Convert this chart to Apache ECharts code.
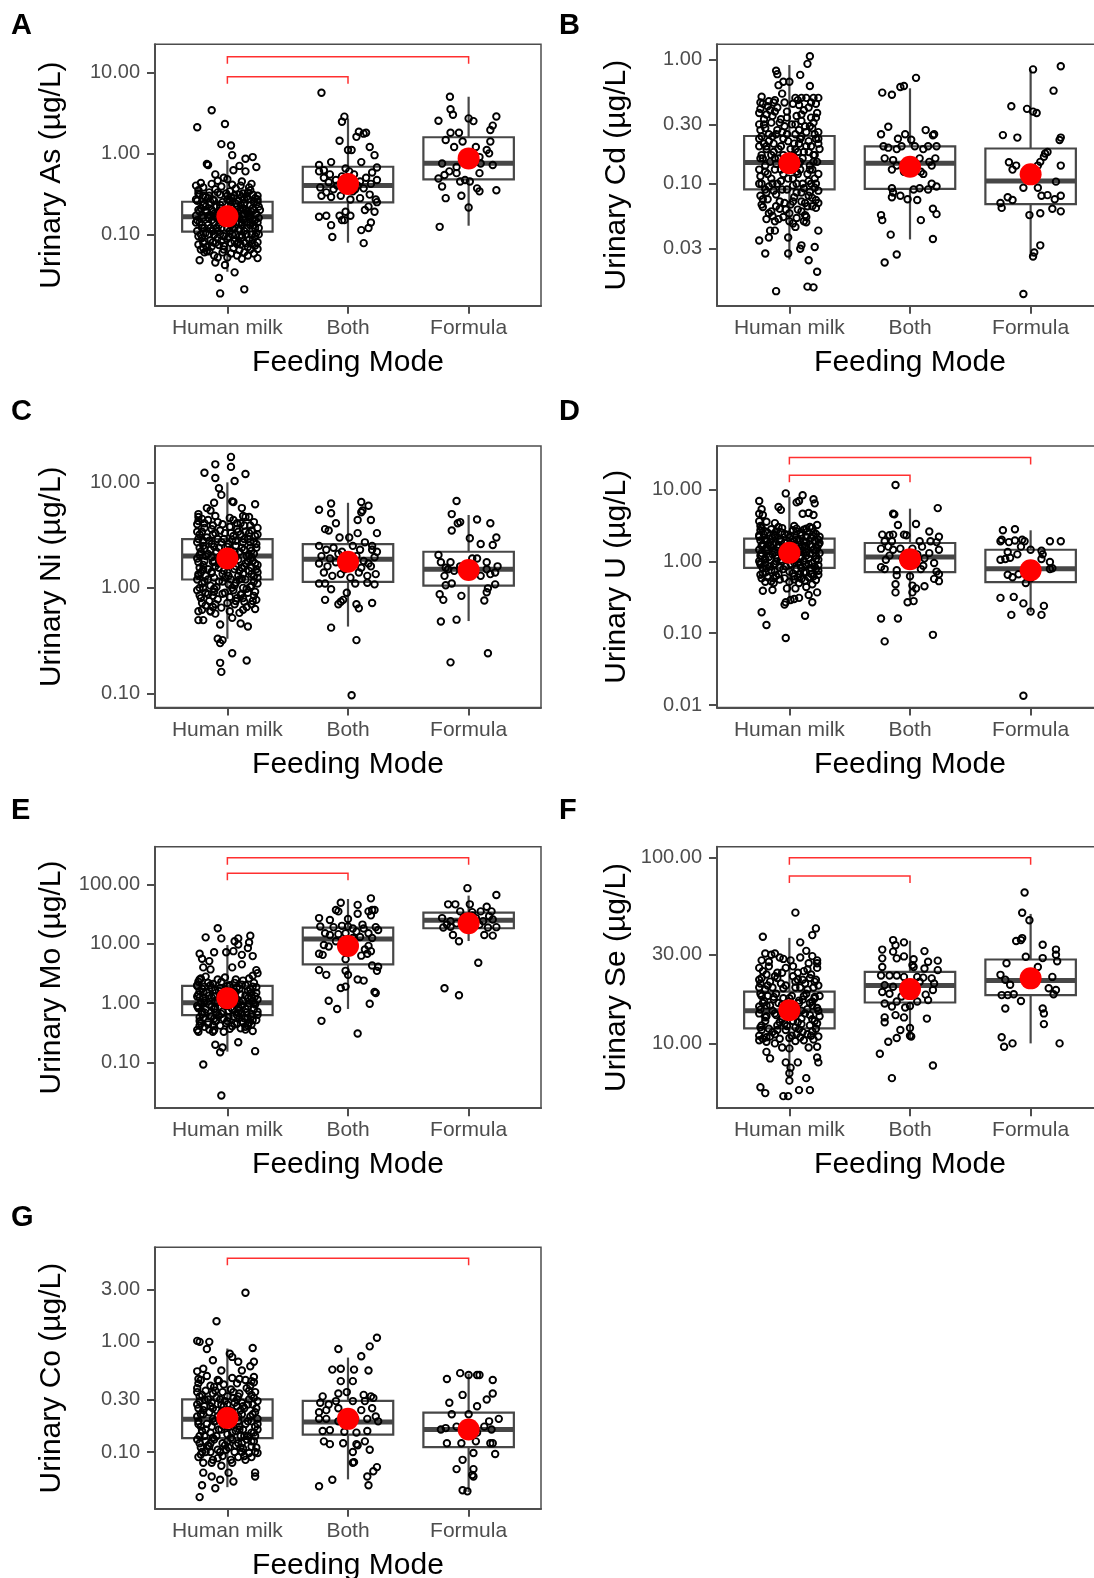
<!DOCTYPE html>
<html>
<head>
<meta charset="utf-8">
<script src="https://cdn.jsdelivr.net/npm/echarts@6.0.0/dist/echarts.min.js"></script>
<style>
  html, body { margin: 0; padding: 0; background: #fff; }
  #chart { width: 1094px; height: 1578px; }
</style>
</head>
<body>
<div id="chart"></div>
<script>
// feeding mode categories, shared by all panels
const feedingModes = ['Human milk', 'Both', 'Formula'];

// each group of points: [jitter offset in category units, value in µg/L]
// boxes: [lower whisker, Q1, median, Q3, upper whisker]

// --- A: arsenic
const asRange = [0.01315, 22.18];
const asTicks = [0.1, 1, 10];
const asBoxes = [[0.0346, 0.108, 0.165, 0.253, 0.83], [0.079, 0.248, 0.40, 0.684, 2.7], [0.128, 0.478, 0.753, 1.58, 5.0]];
const asMeans = [0.167, 0.42, 0.867];
const asBrackets = [[1, 2, 8.8], [1, 3, 15.6]];
const asMilk = [[-.13,3.4],[-.25,2.1],[-.02,2.3],[-.05,1.3],[.03,1.25],[.04,.95],[.21,.9],[.15,.86],[-.17,.74],[-.16,.72],[.15,.6],[.24,.68],[-.1,.55],[-.22,.43],[.05,.62],[.1,.7],[-.03,.5],[.18,.38],[0,.48],[-.08,.46],[.12,.45],
  [-.24,.35],[-.2,.3],[-.15,.33],[-.1,.36],[-.06,.31],[.02,.34],[.07,.37],[.13,.32],[.19,.35],[.25,.3],
  [-.25,.26],[-.19,.24],[-.12,.27],[-.04,.25],[.05,.28],[.11,.23],[.17,.27],[.22,.25],[.26,.22],
  [-.22,.21],[-.17,.19],[-.09,.22],[-.02,.2],[.04,.21],[.09,.18],[.15,.2],[.2,.19],[.24,.18],
  [-.26,.17],[-.2,.16],[-.14,.17],[-.07,.15],[.01,.16],[.08,.17],[.13,.15],[.19,.16],[.23,.15],
  [-.23,.14],[-.16,.13],[-.11,.14],[-.05,.12],[.03,.13],[.1,.14],[.16,.12],[.22,.13],[.26,.12],
  [-.25,.11],[-.18,.105],[-.12,.11],[-.06,.1],[.02,.11],[.07,.1],[.14,.11],[.2,.1],[.24,.105],
  [-.21,.09],[-.14,.085],[-.08,.09],[0,.088],[.06,.082],[.12,.092],[.18,.086],[.25,.08],
  [-.24,.075],[-.17,.07],[-.1,.078],[-.03,.072],[.05,.068],[.11,.075],[.17,.07],[.23,.073],
  [-.23,.048],[.25,.051],[-.07,.029],[.06,.034],[-.06,.0187],[.14,.021],[-.2,.068],[.12,.05],[-.02,.042],[.19,.065],[-.13,.071],[-.19,.06],[.08,.055],[-.1,.045],[.03,.058],
  [-.18,.29],[0,.3],[.09,.26],[-.13,.2],[.07,.24],[.16,.29],[-.03,.17],[.21,.21],[-.21,.13],[.05,.15],[-.09,.12],[.14,.18],
  [-.24,.32],[-.16,.28],[-.08,.33],[.03,.29],[.1,.31],[.17,.33],[.23,.28],[-.2,.23],[-.14,.25],[-.06,.23],[.02,.26],[.08,.22],[.14,.24],[.19,.23],[.25,.25],
  [-.23,.19],[-.18,.2],[-.11,.18],[-.01,.19],[.06,.19],[.11,.2],[.17,.18],[.22,.2],[-.25,.15],[-.16,.16],[-.09,.16],[.04,.14],[.1,.16],[.16,.14],[.21,.15],[.26,.16],
  [-.21,.12],[-.14,.12],[-.07,.13],[0,.12],[.06,.12],[.12,.13],[.19,.13],[-.22,.1],[-.15,.1],[-.03,.095],[.04,.1],[.1,.095],[.16,.1],[.23,.095],
  [-.19,.082],[-.12,.08],[-.05,.083],[.03,.078],[.09,.08],[.15,.078],[.21,.085],[-.22,.065],[-.15,.062],[-.04,.06],[.14,.06],[.22,.058],[-.11,.055],[0,.052],
  [-.26,.4],[-.2,.38],[-.13,.42],[-.05,.39],[.04,.41],[.11,.4],[.2,.42],[-.23,.31],[-.15,.3],[-.01,.32],[.06,.3],[.12,.29],[.21,.31],[-.26,.27],[-.11,.26],[0,.27],[.14,.27],[.25,.27],
  [-.18,.22],[-.06,.21],[.03,.23],[.13,.21],[.27,.2],[-.24,.2],[-.12,.19],[.01,.2],[.16,.19],[-.21,.17],[-.09,.17],[.05,.17],[.18,.17],[.25,.14],[-.26,.14],[-.13,.15],[-.02,.14],[.12,.14],[.19,.14],
  [-.19,.12],[-.08,.11],[.04,.12],[.1,.115],[.23,.12],[-.24,.095],[-.11,.098],[.01,.093],[.12,.098],[.26,.1],[-.2,.078],[-.07,.074],[.08,.076],[.2,.077],[-.17,.062],[-.03,.065],[.1,.064],[.25,.066],[-.08,.052],[.17,.055]];
const asBoth = [[-.22,5.6],[-.03,2.84],[-.05,2.46],[-.07,1.43],[0,1.1],[.03,1.1],[.09,1.85],[.13,1.75],[.15,1.8],[.07,1.6],[.18,1.2],[.22,.95],[-.24,.72],[-.14,.78],[.11,.78],[-.02,.65],[.24,.67],
  [-.24,.6],[-.2,.5],[-.15,.55],[-.1,.47],[-.05,.52],[.05,.55],[.1,.45],[.15,.5],[.2,.58],[.24,.47],
  [-.23,.38],[-.18,.33],[-.12,.36],[-.06,.3],[.04,.34],[.08,.4],[.13,.37],[.18,.31],[.23,.27],
  [-.22,.3],[-.14,.29],[.02,.27],[.1,.28],
  [-.24,.165],[-.18,.17],[-.14,.13],[-.13,.093],[-.05,.15],[-.07,.17],[.02,.17],[.13,.078],[.11,.113],[.17,.12],[.19,.14],[.14,.2],[.17,.22],[.22,.19],[.24,.25],[-.02,.19],[-.03,.15],
  [-.2,.62],[-.09,.4],[.06,.36],[.19,.42],[-.16,.44],[.01,.6]];
const asFormula = [[-.155,5],[-.25,2.53],[-.15,3.5],[-.13,3],[.23,2.85],[.18,1.94],[.2,2.2],[0,2.7],[.04,2.5],[-.15,1.8],[-.08,1.8],[-.19,1.46],[-.12,1.2],[-.05,1.4],[.15,1.1],[.18,1.4],[.17,1],[-.22,.75],[.1,.75],[.2,.72],[-.25,.49],[-.2,.54],[-.16,.6],[-.1,.57],[-.07,.45],[-.03,.47],[.09,.57],[-.22,.39],[.01,.45],[.07,.37],[.09,.34],[.23,.35],[-.19,.28],[-.06,.3],[0,.215],[-.24,.124],[-.1,.68],[.06,1.2],[.09,.9]];

// --- B: cadmium
const cdRange = [0.01045, 1.321];
const cdTicks = [0.03, 0.1, 0.3, 1];
const cdBoxes = [[0.0246, 0.09, 0.148, 0.242, 0.9], [0.0357, 0.091, 0.146, 0.2, 0.585], [0.0259, 0.0686, 0.105, 0.192, 0.83]];
const cdMeans = [0.146, 0.137, 0.119];
const cdBrackets = [];
const cdMilk = [[.17,1.06],[.15,.92],[-.11,.81],[-.1,.76],[.09,.75],[-.09,.62],[-.05,.66],[0,.66],[.17,.61],[-.06,.53],[.05,.49],[.1,.49],[.14,.49],[.2,.49],[.24,.49],[-.22,.44],[-.17,.46],[-.13,.45],[.03,.44],
  [-.24,.4],[-.19,.36],[-.12,.38],[-.07,.33],[.06,.35],[.12,.39],[.18,.34],[.23,.37],
  [-.25,.3],[-.2,.28],[-.15,.31],[-.1,.27],[-.04,.29],[.02,.3],[.08,.27],[.13,.29],[.19,.28],[.24,.26],
  [-.23,.24],[-.17,.22],[-.11,.25],[-.05,.23],[.04,.21],[.1,.24],[.16,.22],[.22,.23],
  [-.25,.2],[-.19,.19],[-.13,.18],[-.07,.2],[.01,.19],[.07,.18],[.14,.2],[.2,.17],[.25,.19],
  [-.22,.16],[-.16,.15],[-.09,.16],[-.03,.14],[.05,.15],[.11,.16],[.17,.14],[.23,.15],
  [-.25,.13],[-.18,.12],[-.12,.13],[-.05,.12],[.03,.11],[.09,.13],[.15,.12],[.21,.11],
  [-.23,.1],[-.17,.095],[-.1,.1],[-.02,.09],[.06,.1],[.12,.092],[.18,.1],[.24,.088],
  [-.24,.08],[-.18,.075],[-.11,.082],[-.04,.07],[.04,.078],[.1,.072],[.16,.08],[.22,.074],
  [-.22,.065],[-.15,.06],[-.08,.063],[0,.058],[.07,.062],[.13,.056],[.19,.066],
  [-.19,.052],[-.12,.05],[-.05,.054],[.03,.048],[.14,.054],[.14,.049],[.24,.042],[-.16,.042],[.05,.045],
  [-.25,.035],[-.2,.0275],[-.17,.037],[-.12,.042],[-.11,.0137],[.15,.0149],[.2,.0147],[.23,.0196],[.16,.0243],[.21,.031],[.1,.032],[.09,.03],[-.01,.0275],[-.01,.037],
  [-.24,.45],[-.18,.42],[-.1,.41],[.08,.43],[.16,.41],[.22,.44],[-.21,.33],[-.14,.35],[-.02,.34],[.1,.32],[.2,.31],[-.24,.27],[-.17,.25],[-.06,.26],[.05,.25],[.14,.26],[.24,.23],
  [-.21,.21],[-.13,.21],[-.01,.22],[.08,.21],[.18,.2],[-.23,.17],[-.15,.17],[-.05,.17],[.03,.17],[.12,.18],[.21,.17],[-.2,.14],[-.11,.145],[.02,.135],[.09,.15],[.19,.13],
  [-.24,.115],[-.15,.11],[-.07,.105],[.07,.12],[.16,.105],[.24,.12],[-.2,.09],[-.13,.088],[.03,.097],[.1,.085],[.21,.093],[-.22,.075],[-.08,.072],[.01,.068],[.13,.07],[.19,.077],
  [-.17,.058],[-.03,.062],[.1,.06],[.22,.064],[-.09,.052],[.06,.053],
  [-.23,.5],[-.12,.47],[-.04,.45],[.07,.47],[.18,.45],[-.25,.37],[-.16,.39],[-.02,.38],[.1,.36],[.22,.34],[-.21,.3],[-.08,.31],[.05,.3],[.17,.29],[-.25,.23],[-.14,.24],[-.02,.25],[.09,.23],[.21,.25],
  [-.19,.2],[-.09,.19],[.05,.19],[.16,.18],[.24,.21],[-.24,.16],[-.12,.16],[0,.16],[.08,.145],[.2,.15],[-.2,.125],[-.07,.13],[.06,.125],[.17,.13],[-.25,.1],[-.14,.1],[-.01,.11],[.11,.1],[.22,.1],
  [-.19,.085],[-.06,.09],[.06,.085],[.17,.086],[-.23,.068],[-.11,.066],[.03,.072],[.15,.066],[.24,.07],[-.14,.055],[0,.05],[.12,.05]];
const cdBoth = [[.05,.71],[-.05,.61],[-.08,.6],[-.23,.54],[-.15,.52],[-.18,.287],[-.24,.25],[.13,.27],[.2,.25],[.19,.245],[-.04,.25],[-.1,.23],[.01,.226],
  [-.22,.2],[-.18,.195],[-.11,.19],[-.07,.2],[.04,.2],[.11,.19],[.15,.2],[.22,.2],
  [-.21,.16],[-.14,.155],[-.11,.14],[.01,.15],[.08,.16],[.16,.15],[.21,.16],[.18,.14],[.09,.125],
  [-.15,.13],[-.05,.125],[.11,.12],[.18,.1],[.22,.095],[.15,.09],[.08,.092],
  [-.15,.092],[-.14,.085],[-.08,.08],[-.15,.078],[-.02,.075],[.06,.074],[.03,.09],
  [-.24,.056],[-.23,.051],[.09,.051],[.19,.063],[.22,.057],[-.16,.039],[.19,.036],[-.11,.027],[-.21,.0233]];
const cdFormula = [[.25,.88],[.02,.83],[.19,.56],[-.16,.42],[-.03,.4],[.02,.38],[.05,.37],[-.23,.246],[-.11,.235],[.24,.225],[.25,.235],[.14,.18],[-.18,.149],[-.12,.14],[-.15,.13],[.08,.15],[.06,.14],[.11,.165],[.12,.175],[.25,.14],[.21,.104],[-.06,.093],[.06,.093],[.14,.081],[.09,.08],[.25,.08],[.2,.075],[-.25,.07],[-.24,.064],[-.19,.078],[-.15,.074],[.18,.063],[.25,.06],[.08,.058],[-.01,.056],[.08,.032],[.03,.028],[.02,.026],[-.06,.013]];

// --- C: nickel
const niRange = [0.0736, 22.08];
const niTicks = [0.1, 1, 10];
const niBoxes = [[0.33, 1.2, 2.0, 2.9, 10], [0.43, 1.14, 1.87, 2.6, 6.4], [0.485, 1.05, 1.5, 2.2, 4.9]];
const niMeans = [1.9, 1.77, 1.48];
const niBrackets = [];
const niMilk = [[.03,17.4],[-.1,14.8],[.03,14],[-.19,12.3],[.15,12],[-.1,11],[.06,10.3],[-.07,8.8],[-.05,7.6],[.04,6.6],[.05,6.5],[.23,6.2],[-.11,6.4],[-.17,5.7],[-.14,5.4],[.12,5.7],[.15,4.7],[.18,4.7],[-.24,4.7],[-.21,4.5],
  [-.25,4],[-.19,3.7],[-.12,3.9],[-.06,3.5],[.02,3.8],[.08,3.6],[.14,3.9],[.2,3.5],[.25,3.7],
  [-.23,3.2],[-.17,3],[-.1,3.3],[-.03,2.9],[.05,3.1],[.11,3.2],[.17,2.9],[.23,3.1],
  [-.25,2.7],[-.2,2.5],[-.13,2.6],[-.07,2.4],[.01,2.6],[.07,2.5],[.13,2.7],[.19,2.4],[.24,2.6],
  [-.22,2.2],[-.16,2.1],[-.09,2.2],[-.02,2],[.04,2.1],[.1,2.2],[.16,2],[.22,2.1],
  [-.25,1.9],[-.19,1.8],[-.12,1.75],[-.05,1.9],[.03,1.7],[.09,1.85],[.15,1.7],[.21,1.8],[.25,1.65],
  [-.23,1.55],[-.16,1.5],[-.1,1.6],[-.03,1.45],[.06,1.5],[.12,1.55],[.18,1.45],[.24,1.5],
  [-.24,1.35],[-.18,1.3],[-.11,1.25],[-.04,1.35],[.03,1.2],[.09,1.3],[.15,1.2],[.22,1.28],
  [-.21,1.1],[-.14,1.05],[-.07,1.15],[.01,1.08],[.07,1.12],[.13,1],[.2,1.05],[.25,1.1],
  [-.25,.95],[-.18,.9],[-.11,.92],[-.04,.88],[.05,.95],[.11,.86],[.17,.9],[.23,.92],
  [-.22,.8],[-.15,.75],[-.08,.78],[0,.72],[.08,.8],[.14,.74],[.2,.7],[.24,.77],
  [-.24,.495],[-.2,.495],[-.06,.45],[.04,.52],[.11,.46],[.17,.43],[-.08,.33],[-.06,.3],[-.04,.32],[.04,.24],[.16,.205],[-.06,.195],[-.05,.16],[-.24,.6],[-.21,.62],[-.14,.6],[.23,.63],[-.12,.66],[.1,.58],
  [-.24,4.3],[-.16,4.4],[-.08,4.2],[.05,4.4],[.11,4.1],[.22,4.2],[-.21,3.4],[-.13,3.6],[-.02,3.3],[.09,3.4],[.18,3.3],[-.24,2.9],[-.15,2.8],[-.05,2.7],[.04,2.85],[.14,2.9],[.22,2.75],
  [-.19,2.35],[-.11,2.45],[.02,2.3],[.12,2.4],[.2,2.25],[-.23,2.05],[-.13,1.95],[-.04,2.1],[.07,1.95],[.18,2.05],[-.2,1.65],[-.07,1.7],[.05,1.8],[.14,1.6],[.23,1.7],
  [-.22,1.4],[-.13,1.42],[0,1.4],[.1,1.45],[.2,1.35],[-.25,1.2],[-.16,1.2],[-.02,1.25],[.12,1.22],[.25,1.25],[-.2,1],[-.09,1.02],[.04,1],[.16,.98],
  [-.23,.85],[-.12,.84],[.02,.82],[.13,.8],[.22,.84],[-.18,.68],[-.05,.65],[.06,.7],[.16,.66],[-.1,.57],[.02,.6],
  [-.24,5],[-.1,4.8],[.02,4.6],[.13,4.8],[-.19,4.1],[-.04,4],[.08,4.1],[.19,3.9],[-.25,3.4],[-.12,3.2],[.03,3.3],[.15,3.4],[.25,3.2],[-.2,2.8],[-.08,2.9],[.07,2.8],[.19,2.7],
  [-.23,2.4],[-.14,2.3],[0,2.45],[.14,2.3],[.24,2.4],[-.18,2],[-.06,2],[.06,2.2],[.2,1.95],[-.24,1.75],[-.11,1.8],[.02,1.85],[.17,1.8],[-.2,1.5],[-.07,1.55],[.07,1.6],[.2,1.55],
  [-.24,1.3],[-.13,1.38],[.01,1.3],[.13,1.35],[.25,1.4],[-.19,1.15],[-.04,1.15],[.1,1.2],[.22,1.15],[-.23,1],[-.11,.98],[.06,1.05],[.19,1.02],[-.16,.87],[-.02,.9],[.12,.88],
  [-.21,.72],[-.1,.7],[.07,.75],[.21,.75],[-.14,.6],[.13,.62]];
const niBoth = [[-.14,6.3],[.11,6.5],[.17,6],[-.24,5.5],[-.14,5.1],[.12,5.4],[.11,5.2],[-.1,4.1],[.08,4.4],[.19,4.4],[.24,3.3],[-.19,3.6],[-.16,3.5],[.08,3.3],[-.07,3],[.01,3],[.14,2.7],[.24,2.2],[.2,2.3],[.17,1.7],
  [-.24,2.5],[-.18,2.3],[-.12,2.4],[-.05,2.2],[.04,2.5],[.1,2.3],[.2,2.5],
  [-.22,2],[-.15,1.9],[-.08,2.1],[0,1.9],[.07,2],[.13,1.8],[.22,1.95],
  [-.24,1.7],[-.17,1.6],[-.1,1.75],[-.03,1.5],[.05,1.65],[.11,1.55],[.19,1.6],
  [-.2,1.4],[-.13,1.3],[-.06,1.35],[.02,1.25],[.09,1.4],[.16,1.3],[.23,1.35],
  [-.24,1.1],[-.19,1.1],[.06,1.1],[.16,1.12],[.22,1.08],
  [-.14,.97],[-.01,.9],[-.19,.77],[-.06,.74],[-.04,.77],[-.08,.7],[.07,.7],[.09,.64],[.2,.72],[-.14,.42],[.07,.32],[.03,.096]];
const niFormula = [[-.1,6.65],[-.14,5],[-.09,4.1],[-.07,4.2],[.07,4.45],[.18,4.1],[-.14,3.5],[.01,2.95],[.23,3],[.1,2.6],[.2,2.55],[-.25,2.05],[-.15,1.75],[-.23,1.75],[-.19,1.55],[.03,1.9],[.07,1.9],[.15,1.75],[-.07,1.6],[.15,1.5],[.24,1.6],[.22,1.4],[.18,1.35],[-.19,1.06],[-.14,1.1],[.22,1.08],[.16,.99],[.15,.91],[-.24,.87],[-.06,.84],[-.21,.77],[.13,.76],[-.23,.48],[-.1,.5],[.16,.24],[-.15,.197],[-.12,1.45],[-.02,1.4],[.1,1.3],[-.2,1.3],[-.17,1.5]];

// --- D: uranium
const uRange = [0.00927, 40.18];
const uTicks = [0.01, 0.1, 1, 10];
const uBoxes = [[0.27, 0.81, 1.38, 2.07, 7.9], [0.3, 0.71, 1.15, 1.8, 5.4], [0.196, 0.515, 0.79, 1.45, 2.7]];
const uMeans = [1.32, 1.07, 0.75];
const uBrackets = [[1, 2, 15.8], [1, 3, 27.9]];
const uMilk = [[-.03,8.8],[.11,8.3],[-.25,6.9],[.2,7.3],[.21,6.4],[.06,6.6],[.08,6.9],[-.09,5.7],[-.07,5.2],[-.23,5.3],[-.25,4.6],[-.22,4.4],[.11,4.6],[.16,4.7],[.2,4.4],[-.25,3.6],[-.19,3.55],[-.12,3.4],[.23,3.2],[.14,2.85],
  [-.24,2.7],[-.18,2.5],[-.11,2.6],[-.04,2.4],[.03,2.7],[.09,2.5],[.15,2.6],[.22,2.4],
  [-.25,2.2],[-.2,2],[-.14,2.1],[-.07,1.9],[0,2.15],[.06,2],[.12,1.9],[.18,2.1],[.24,2],
  [-.22,1.75],[-.16,1.65],[-.09,1.7],[-.02,1.6],[.05,1.75],[.11,1.6],[.17,1.7],[.23,1.55],
  [-.25,1.45],[-.19,1.4],[-.12,1.35],[-.05,1.45],[.02,1.3],[.08,1.4],[.14,1.35],[.2,1.45],[.25,1.3],
  [-.23,1.2],[-.17,1.15],[-.1,1.1],[-.03,1.2],[.04,1.05],[.1,1.15],[.16,1.1],[.22,1.2],
  [-.25,1],[-.2,.95],[-.13,.9],[-.06,1],[.01,.92],[.07,.98],[.13,.9],[.19,.95],[.24,.88],
  [-.22,.8],[-.15,.75],[-.08,.82],[0,.72],[.06,.78],[.12,.7],[.18,.8],[.24,.74],
  [-.24,.65],[-.18,.6],[-.11,.63],[-.04,.58],[.04,.62],[.1,.57],[.16,.6],[.22,.55],
  [-.2,.52],[-.13,.5],[.08,.5],[.19,.48],
  [-.22,.39],[-.14,.4],[-.02,.42],[.05,.42],[.01,.29],[.04,.3],[.08,.31],[-.04,.25],[-.03,.27],[.19,.27],[.23,.37],[.14,.44],[.16,.34],[-.23,.196],[-.19,.13],[.13,.175],[-.03,.086],
  [-.23,2.9],[-.15,2.8],[-.06,2.9],[.06,2.85],[.12,2.75],[.19,2.9],[-.21,2.35],[-.13,2.4],[-.01,2.35],[.1,2.3],[.2,2.25],[-.24,1.95],[-.16,1.85],[-.04,1.8],[.04,1.9],[.14,1.85],[.25,1.8],
  [-.19,1.55],[-.1,1.55],[0,1.5],[.1,1.5],[.19,1.6],[-.23,1.3],[-.14,1.25],[-.07,1.3],[.06,1.25],[.17,1.28],[-.2,1.05],[-.11,1],[.02,1.1],[.12,1.02],[.22,1.08],
  [-.24,.9],[-.16,.85],[-.03,.85],[.09,.88],[.21,.84],[-.2,.7],[-.12,.72],[.03,.68],[.14,.7],[.24,.65],[-.23,.58],[-.08,.56],[.07,.6],[.2,.62],[-.15,.53],[0,.52],[.13,.54],
  [-.24,3.1],[-.09,3],[.04,3.1],[.17,3],[-.2,2.6],[-.07,2.55],[.06,2.6],[.2,2.55],[-.25,2.3],[-.12,2.25],[.01,2.25],[.14,2.2],[.25,2.2],[-.19,1.9],[-.08,2],[.08,1.95],[.21,1.95],
  [-.23,1.65],[-.13,1.7],[.01,1.7],[.13,1.65],[.24,1.7],[-.18,1.45],[-.02,1.4],[.11,1.4],[.22,1.4],[-.24,1.2],[-.11,1.2],[.04,1.25],[.14,1.2],[-.2,1.1],[-.07,1.05],[.09,1.1],[.24,1.05],
  [-.24,.95],[-.12,.92],[.04,.96],[.16,.92],[-.19,.8],[-.05,.78],[.1,.8],[.22,.78],[-.22,.68],[-.09,.66],[.08,.66],[.18,.67],[-.13,.58],[.04,.56]];
const uBoth = [[-.12,11.5],[.23,5.5],[-.13,4.5],[-.14,4.6],[-.1,3.2],[.05,3.3],[-.23,2.35],[-.17,2.3],[-.14,2.35],[-.05,2.35],[-.03,2.3],[.16,2.6],[.24,2.2],
  [-.21,1.9],[-.15,1.9],[.08,1.9],[.17,1.9],[.22,1.85],
  [-.24,1.5],[-.18,1.6],[-.14,1.45],[-.08,1.5],[.02,1.5],[.1,1.6],[.24,1.45],
  [.12,1.1],[.2,.95],[.04,.92],[.11,.87],
  [-.24,.83],[-.21,.78],[-.11,.75],[.09,.78],[.22,.72],[.24,.66],
  [-.11,.64],[0,.62],[.2,.57],[.24,.53],
  [-.12,.48],[.02,.46],[.12,.45],[-.12,.37],[.02,.37],[.05,.42],[-.02,.27],[.03,.28],[-.24,.16],[-.1,.16],[.19,.095],[-.21,.077],
  [-.17,1.2],[-.06,1.1],[.06,1.25],[.16,1.3],[-.2,1.05],[0,1]];
const uFormula = [[-.23,2.7],[-.13,2.8],[-.24,2],[-.25,1.9],[-.18,1.85],[-.13,1.95],[-.07,2],[-.05,1.9],[.16,1.9],[.25,1.9],[-.08,1.6],[-.19,1.35],[-.11,1.25],[0,1.45],[.09,1.4],[.1,1.25],
  [-.25,1.05],[-.21,1.08],[-.17,1.12],[.09,1.08],[.16,.98],[.18,.8],[.16,.78],
  [-.19,.65],[-.15,.6],[-.1,.66],[-.04,.5],[0,.58],[.05,.75],
  [-.25,.31],[-.14,.32],[-.06,.26],[.11,.24],[-.16,.18],[0,.2],[.09,.18],[-.06,.0135]];

// --- E: molybdenum
const moRange = [0.01714, 428.5];
const moTicks = [0.1, 1, 10, 100];
const moBoxes = [[0.153, 0.63, 1.02, 1.95, 9.5], [0.8, 4.5, 12, 18.7, 56.6], [11.1, 18.2, 24.8, 33.3, 64.5]];
const moMeans = [1.21, 9.2, 22.1];
const moBrackets = [[1, 2, 153], [1, 3, 280]];
const moMilk = [[-.08,18.2],[-.18,12.8],[-.05,12.3],[.19,13.6],[.09,12.3],[.06,11],[.09,9.7],[.18,10.5],[.17,8.5],[-.23,6.8],[-.21,5.6],[-.15,5.1],[-.11,7.2],[-.01,7.2],[.05,7.5],[.12,6.5],[.21,6.2],
  [-.2,4],[-.14,3.7],[.04,4],[.12,4.5],[.24,3.6],[-.23,2.5],[-.18,2.8],[-.02,2.7],[.21,2.9],[.25,3.2],
  [-.25,2],[-.19,1.9],[-.12,2.1],[-.06,1.8],[.02,2],[.08,1.85],[.15,2],[.21,1.9],
  [-.23,1.6],[-.17,1.5],[-.1,1.65],[-.03,1.45],[.05,1.55],[.11,1.4],[.17,1.6],[.24,1.5],
  [-.25,1.3],[-.2,1.2],[-.13,1.25],[-.06,1.15],[.01,1.3],[.07,1.2],[.13,1.1],[.2,1.25],[.25,1.15],
  [-.22,1],[-.15,.95],[-.08,1.05],[0,.9],[.06,1],[.12,.92],[.18,1],[.23,.95],
  [-.24,.82],[-.18,.78],[-.11,.8],[-.04,.72],[.04,.8],[.1,.75],[.16,.7],[.22,.8],
  [-.21,.65],[-.14,.6],[-.07,.62],[.01,.58],[.08,.63],[.14,.56],[.2,.6],[.25,.64],
  [-.23,.5],[-.16,.48],[-.09,.52],[-.01,.46],[.06,.45],[.12,.5],[.18,.47],[.24,.52],
  [-.19,.4],[-.12,.42],[.04,.41],[.15,.4],
  [-.25,.354],[-.24,.33],[-.12,.33],[-.11,.35],[-.03,.33],[.21,.34],[-.1,.2],[-.04,.18],[.09,.22],[-.06,.15],[.23,.156],[-.2,.093],[-.05,.028],[-.15,.36],[.15,.36],[.11,.38],[.02,.37],[.17,.42],
  [-.24,2.3],[-.16,2.2],[-.05,2.3],[.06,2.2],[.13,2.4],[.22,2.2],[-.21,1.75],[-.13,1.8],[-.02,1.7],[.1,1.75],[.19,1.7],[-.24,1.4],[-.15,1.35],[-.06,1.4],[.04,1.4],[.15,1.35],[.23,1.3],
  [-.19,1.1],[-.1,1.1],[.03,1.1],[.1,1.05],[.21,1.1],[-.25,.9],[-.13,.88],[-.03,.95],[.09,.85],[.17,.88],[-.21,.72],[-.09,.7],[.01,.75],[.12,.68],[.25,.72],
  [-.2,.57],[-.11,.55],[-.03,.55],[.1,.57],[.21,.52],[-.16,.44],[-.06,.42],[.08,.45],[.2,.44],[-.23,.42],
  [-.22,2.6],[-.08,2.5],[.07,2.5],[.18,2.6],[-.25,1.95],[-.14,2],[0,1.95],[.12,2.05],[.24,1.85],[-.2,1.55],[-.07,1.6],[.07,1.55],[.2,1.5],[-.23,1.25],[-.11,1.3],[.04,1.22],[.17,1.2],
  [-.19,1.02],[-.04,1.02],[.08,.98],[.22,1],[-.24,.85],[-.1,.82],[.03,.85],[.15,.8],[-.19,.7],[-.05,.66],[.09,.68],[.2,.66],[-.23,.58],[-.13,.6],[.05,.6],[.17,.57],[-.1,.49],[.13,.47],[-.22,.46],[0,.5]];
const moBoth = [[.19,58],[-.06,49],[.08,45],[.17,35],[.2,37],[.22,37],[-.1,37],[-.08,35],[.08,32],[.19,30],[-.24,27],[-.15,25],[0,26],[.12,21],
  [-.23,19.5],[-.12,19],[-.05,20],[0,19.5],[.04,18],[.13,18],[.23,19],[.25,17],
  [-.19,15],[-.15,14],[-.08,14.5],[.17,15],[.04,12.5],[.2,12.5],
  [-.2,9.5],[-.16,9],[.17,9.2],[.14,8],[.19,7.5],[-.24,6.8],[-.21,6.5],[.16,6.8],[.11,6.3],
  [-.02,5.5],[.2,4.3],[.25,4.1],[.24,3.5],[-.24,3.6],[-.18,3],[-.02,3.5],[0,3],
  [.08,2.5],[.13,2.4],[.22,1.55],[.23,1.48],[-.06,1.8],[-.02,1.9],[-.16,1.1],[-.09,.8],[.18,.98],[-.22,.505],[.08,.31],
  [-.1,11],[.07,16],[-.02,15],[.1,13]];
const moFormula = [[-.01,86],[.23,66],[-.17,46],[-.11,46],[.01,46],[.15,42],[.1,35],[-.07,35],[.03,34],[.19,35],[-.22,27],[-.15,24],[.2,25.5],[.12,24],[-.21,18.7],[-.15,19.3],[.16,18.7],[.23,19],[-.13,14],[.13,14],[.2,13.7],[-.08,11],[.08,4.8],[-.2,1.78],[-.08,1.36],[-.04,28],[.06,27],[-.1,22],[.09,21],[.03,30],[-.18,21],[.17,29]];

// --- F: selenium
const seRange = [4.477, 114.6];
const seTicks = [10, 30, 100];
const seBoxes = [[6.5, 12.05, 15, 19, 37], [10.6, 16.6, 20.5, 24.3, 35.7], [10, 18.2, 21.8, 28.3, 49.8]];
const seMeans = [15.1, 19.6, 22.4];
const seBrackets = [[1, 2, 79.6], [1, 3, 100]];
const seMilk = [[.05,50.6],[.22,41.6],[.19,38.3],[-.22,37.5],[.09,35],[.14,31.5],[-.2,30.5],[-.15,30],[-.12,30.5],
  [-.08,29],[-.05,28.5],[.09,29],[.19,29.5],[.23,28],
  [-.23,28],[-.17,27.5],[.01,28],[.16,27],[.23,27],
  [-.25,25.5],[-.17,26],[-.03,25.5],[.03,26],[.15,25],[.23,25.5],
  [-.23,22.5],[-.19,23.5],[-.12,23],[.03,23],[.11,22],[.22,22],
  [-.25,20],[-.2,19.5],[-.14,20],[-.03,20.5],[.09,20],[.2,20],
  [-.24,18.5],[-.18,18],[-.11,18.5],[-.05,17.5],[.02,18],[.08,17],[.14,18.5],[.21,17.5],[.25,18],
  [-.22,16.5],[-.16,16],[-.09,16.5],[-.02,15.5],[.04,16],[.1,15],[.17,16.5],[.23,15.5],
  [-.25,14.5],[-.19,14],[-.12,14.5],[-.06,13.5],[.01,14],[.07,13],[.13,14.5],[.19,13.5],[.25,14],
  [-.23,12.5],[-.17,12],[-.1,12.5],[-.03,11.8],[.05,12.2],[.11,11.5],[.17,12.5],[.22,12],
  [-.25,11],[-.19,10.8],[-.12,11.2],[.02,11],[.09,10.8],[.15,11.2],[.24,10.9],
  [-.25,10.4],[-.19,10.2],[-.12,10],[-.06,9.5],[0,9.4],[.16,9.5],[.23,9.6],[-.19,9],[-.16,8.3],[.23,8.4],[.24,7.9],[-.03,7.9],[.07,7.9],[.01,7.4],[0,6.9],[0,6.3],[.14,6.5],[-.24,5.8],[-.2,5.4],[-.05,5.2],[-.01,5.2],[.08,5.6],[.17,5.6],
  [-.24,21],[-.16,21.5],[-.07,21],[.05,21.5],[.13,21],[.21,21.5],[-.21,17],[-.13,17.3],[-.01,16.8],[.11,17.2],[.19,16.8],[-.24,15.2],[-.14,15],[-.05,15.2],[.06,14.8],[.15,15.3],[.24,15],
  [-.2,13.2],[-.08,13],[.03,13.2],[.1,13.6],[.21,13.2],[-.23,11.8],[-.14,11.5],[-.02,12.4],[.08,11.9],[.19,11.6],[-.22,10.6],[-.08,10.6],[.05,10.3],[.2,10.5],[-.1,24],[.07,24],[.18,23.5],
  [-.22,24.5],[-.06,24],[.12,24.5],[-.25,22],[-.1,22.5],[.07,22],[.17,22.5],[-.18,20.5],[-.05,19.8],[.05,20],[.15,19.5],[.24,20.5],[-.23,18],[-.13,17.8],[0,17.5],[.12,18],[.21,17.8],
  [-.19,16],[-.06,16.2],[.08,16.5],[.19,16],[-.25,15.8],[-.11,14.2],[.03,14.5],[.17,14.2],[-.2,13.8],[-.04,12.8],[.1,12.7],[.23,12.8],[-.24,12.2],[-.1,11.8],[.06,11.2],[.18,11],[-.16,10.9],[0,10.7],[.12,10.4]];
const seBoth = [[-.14,36],[-.05,35],[-.12,33.8],[-.23,32],[-.14,31.2],[.12,31.4],[.23,27.9],[.15,27.5],[.02,26.4],[-.05,29.4],[-.23,28.7],[-.11,28.7],[.03,28.4],[-.23,25.8],[.03,25.8],[.12,25.3],[.23,24.8],[-.24,23.2],[-.17,23.2],[-.11,23.2],[-.05,22.8],[.06,22.8],[.18,22.4],[.11,22.6],[-.21,20.6],[-.14,20.2],[.02,20.6],[.19,19.4],[.13,18.3],[-.23,18.9],[-.17,18.5],[-.07,17.9],[.06,16.8],[.15,17.1],[-.21,16.4],[-.15,15.8],[-.11,16.8],[-.04,15.6],[0,15.9],[-.21,13.8],[-.12,14.2],[-.21,13],[-.05,13.8],[.14,13.6],[-.08,11.8],[0,12.1],[.01,10.9],[0,11],[-.18,10.2],[-.11,10.7],[-.25,8.8],[.19,7.6],[-.15,6.5],[.08,21.5],[-.02,19],[.2,21]];
const seFormula = [[-.05,65],[-.07,50.5],[-.01,46],[-.12,35.6],[-.08,36],[-.07,36.9],[.1,34],[.21,32],[-.04,29.3],[.1,28.8],[-.2,27],[.21,30],[.22,27.7],[.06,25.8],[-.25,23.4],[-.21,22],[-.17,20.7],[-.24,18.2],[-.19,18.2],[-.14,18.4],[.18,22.8],[.15,19.8],[.21,19.4],[.19,18.4],[-.08,16.9],[.1,15.4],[.11,14.5],[-.21,15.4],[.11,12.7],[-.24,10.8],[-.22,9.6],[-.15,10],[.24,10]];

// --- G: cobalt
const coRange = [0.03055, 7.21];
const coTicks = [0.1, 0.3, 1, 3];
const coBoxes = [[0.048, 0.134, 0.198, 0.3, 0.87], [0.0565, 0.144, 0.187, 0.291, 0.72], [0.0433, 0.111, 0.16, 0.228, 0.515]];
const coMeans = [0.204, 0.2, 0.16];
const coBrackets = [[1, 3, 5.73]];
const coMilk = [[.15,2.79],[-.09,1.54],[-.25,1.02],[-.23,1],[-.15,1],[.21,.88],[-.17,.86],[-.12,.68],[.02,.78],[.09,.66],[.22,.66],[.04,.73],
  [-.25,.54],[-.2,.57],[-.05,.55],[.12,.55],[.19,.6],[.22,.48],
  [-.24,.46],[-.17,.49],[-.08,.45],[.04,.47],[.15,.45],[.22,.43],
  [-.25,.38],[-.18,.36],[-.11,.39],[-.04,.35],[.03,.37],[.1,.34],[.16,.38],[.23,.35],
  [-.23,.32],[-.16,.3],[-.09,.31],[-.02,.29],[.05,.31],[.12,.28],[.18,.3],[.25,.29],
  [-.25,.27],[-.19,.26],[-.12,.25],[-.05,.27],[.02,.24],[.08,.26],[.14,.25],[.21,.27],
  [-.22,.22],[-.15,.23],[-.08,.21],[-.01,.22],[.06,.2],[.12,.22],[.19,.21],[.25,.2],
  [-.24,.19],[-.17,.18],[-.1,.19],[-.03,.17],[.04,.18],[.1,.17],[.17,.19],[.23,.17],
  [-.21,.155],[-.14,.15],[-.07,.16],[0,.145],[.07,.155],[.14,.14],[.2,.15],[.25,.16],
  [-.25,.13],[-.18,.125],[-.11,.13],[-.04,.12],[.03,.135],[.09,.12],[.16,.13],[.22,.125],
  [-.22,.11],[-.15,.112],[-.08,.105],[.01,.11],[.07,.115],[.13,.108],[.2,.112],
  [-.21,.1],[-.14,.1],[-.01,.105],[.12,.1],[.23,.1],[.25,.098],[-.2,.08],[-.13,.08],[-.05,.075],[.04,.08],[.15,.085],[-.2,.065],[-.13,.06],[-.06,.056],[.01,.065],[.05,.054],[.23,.06],[.23,.065],[-.21,.05],[-.1,.047],[-.23,.039],
  [-.24,.42],[-.14,.4],[-.03,.41],[.08,.42],[.19,.4],[-.21,.33],[-.12,.34],[0,.32],[.09,.32],[.2,.33],[-.23,.29],[-.13,.28],[-.03,.26],[.06,.28],[.17,.27],
  [-.2,.24],[-.09,.24],[.04,.23],[.11,.24],[.23,.23],[-.25,.21],[-.12,.2],[-.05,.2],[.09,.19],[.2,.19],[-.22,.17],[-.13,.17],[.01,.17],[.13,.16],[.25,.18],
  [-.19,.14],[-.09,.14],[.04,.15],[.11,.14],[.23,.14],[-.23,.12],[-.14,.12],[0,.125],[.12,.12],[.2,.125],[-.18,.1],[-.06,.1],[.06,.1],[.18,.098],[-.24,.09],[-.08,.088],[.09,.09],[.2,.09],
  [-.22,.45],[-.07,.44],[.1,.46],[.2,.44],[-.25,.35],[-.1,.36],[.05,.35],[.18,.36],[-.19,.3],[-.06,.3],[.08,.3],[.22,.31],[-.24,.25],[-.14,.26],[0,.27],[.13,.26],[.24,.25],
  [-.2,.22],[-.05,.23],[.09,.21],[.21,.22],[-.24,.18],[-.11,.19],[.02,.19],[.15,.18],[-.18,.16],[-.05,.16],[.1,.16],[.22,.15],[-.23,.14],[-.12,.135],[.04,.13],[.17,.14],
  [-.16,.115],[-.02,.115],[.11,.11],[.24,.11],[-.22,.095],[-.04,.092],[.14,.092],[-.12,.085],[.03,.085]];
const coBoth = [[.24,1.09],[.18,.91],[-.08,.86],[.11,.74],[-.13,.56],[-.06,.57],[.05,.56],[.17,.55],[-.06,.44],[.04,.44],
  [-.21,.32],[-.08,.34],[-.01,.35],[.13,.33],[.19,.32],[.21,.31],
  [-.23,.28],[-.16,.27],[-.1,.29],[.04,.29],[.14,.29],
  [-.24,.23],[-.18,.24],[-.08,.25],[.11,.24],[.2,.25],[.23,.21],
  [-.24,.2],[-.18,.2],[-.08,.19],[.06,.2],[.16,.2],[.25,.19],
  [-.21,.155],[-.15,.158],[-.03,.153],[.07,.15],[.16,.155],
  [-.2,.125],[-.15,.118],[-.04,.12],[.07,.118],[.14,.125],[.08,.115],
  [.18,.105],[.04,.1],[.04,.08],[.05,.081],[.24,.073],[.21,.067],[.16,.06],[.17,.05],[-.13,.056],[-.24,.049]];
const coFormula = [[-.07,.52],[0,.5],[.07,.5],[.09,.5],[-.18,.46],[.2,.45],[.2,.34],[-.05,.33],[.15,.3],[.07,.26],[-.16,.28],
  [-.14,.22],[0,.22],[.25,.2],[.17,.19],
  [-.23,.16],[-.19,.165],[-.1,.17],[.04,.17],[.13,.17],[.07,.15],[.19,.16],
  [-.18,.12],[-.06,.12],[.06,.125],[.18,.12],[.2,.12],[.04,.098],[.22,.096],
  [-.05,.085],[-.1,.07],[.04,.07],[.03,.062],[.04,.06],[-.05,.045],[-.01,.044]];

const panels = [
  { letter: 'A', title: 'Urinary As (µg/L)', range: asRange, ticks: asTicks, boxes: asBoxes, means: asMeans, brackets: asBrackets, groups: [asMilk, asBoth, asFormula] },
  { letter: 'B', title: 'Urinary Cd (µg/L)', range: cdRange, ticks: cdTicks, boxes: cdBoxes, means: cdMeans, brackets: cdBrackets, groups: [cdMilk, cdBoth, cdFormula] },
  { letter: 'C', title: 'Urinary Ni (µg/L)', range: niRange, ticks: niTicks, boxes: niBoxes, means: niMeans, brackets: niBrackets, groups: [niMilk, niBoth, niFormula] },
  { letter: 'D', title: 'Urinary U (µg/L)', range: uRange, ticks: uTicks, boxes: uBoxes, means: uMeans, brackets: uBrackets, groups: [uMilk, uBoth, uFormula] },
  { letter: 'E', title: 'Urinary Mo (µg/L)', range: moRange, ticks: moTicks, boxes: moBoxes, means: moMeans, brackets: moBrackets, groups: [moMilk, moBoth, moFormula] },
  { letter: 'F', title: 'Urinary Se (µg/L)', range: seRange, ticks: seTicks, boxes: seBoxes, means: seMeans, brackets: seBrackets, groups: [seMilk, seBoth, seFormula] },
  { letter: 'G', title: 'Urinary Co (µg/L)', range: coRange, ticks: coTicks, boxes: coBoxes, means: coMeans, brackets: coBrackets, groups: [coMilk, coBoth, coFormula] }
];

const fontFamily = '"Liberation Sans", Arial, Helvetica, sans-serif';
const gridLeft = [155, 717];
const gridTop = [44.3, 446, 846.7, 1247.3];
const titleGap = [88, 85];
const letterY = [26, 412, 811, 1218];
const axisGrey = '#4d4d4d';
const boxGrey = '#474747';

const log = v => Math.log10(v);

function renderBox(params, api) {
  const x = api.value(0);
  const lo = api.coord([x, api.value(1)]);
  const q1 = api.coord([x, api.value(2)]);
  const med = api.coord([x, api.value(3)]);
  const q3 = api.coord([x, api.value(4)]);
  const hi = api.coord([x, api.value(5)]);
  const w = api.size([0.75, 0])[0];
  const line = { stroke: boxGrey, lineWidth: 2.2 };
  return {
    type: 'group',
    children: [
      { type: 'line', shape: { x1: lo[0], y1: lo[1], x2: q1[0], y2: q1[1] }, style: line },
      { type: 'line', shape: { x1: q3[0], y1: q3[1], x2: hi[0], y2: hi[1] }, style: line },
      { type: 'rect', shape: { x: q3[0] - w / 2, y: q3[1], width: w, height: q1[1] - q3[1] }, style: { stroke: boxGrey, lineWidth: 2.2, fill: 'transparent' } },
      { type: 'line', shape: { x1: med[0] - w / 2, y1: med[1], x2: med[0] + w / 2, y2: med[1] }, style: { stroke: boxGrey, lineWidth: 5 } }
    ]
  };
}

function renderBracket(params, api) {
  const a = api.coord([api.value(0), api.value(2)]);
  const b = api.coord([api.value(1), api.value(2)]);
  const tip = 7;
  return {
    type: 'polyline',
    shape: { points: [[a[0], a[1] + tip], a, b, [b[0], b[1] + tip]] },
    style: { stroke: '#ff3030', lineWidth: 1.5, fill: 'none' }
  };
}

const option = { animation: false, backgroundColor: '#fff', grid: [], xAxis: [], yAxis: [], series: [], graphic: [] };

panels.forEach((p, i) => {
  const col = i % 2;
  const row = Math.floor(i / 2);
  const tickLogs = p.ticks.map(log);

  option.grid.push({
    left: gridLeft[col], top: gridTop[row], width: 386, height: 261.5,
    outerBoundsMode: 'none', containLabel: false,
    show: true, borderColor: axisGrey, borderWidth: 1.5
  });

  option.xAxis.push({
    gridIndex: i, type: 'value', min: 0.4, max: 3.6,
    name: 'Feeding Mode', nameLocation: 'middle', nameGap: 42,
    nameTextStyle: { fontSize: 30, color: '#000', fontFamily },
    axisLine: { show: true, onZero: false, lineStyle: { color: axisGrey, width: 2 } },
    axisTick: { show: true, length: 8, customValues: [1, 2, 3], lineStyle: { color: axisGrey, width: 2 } },
    axisLabel: { customValues: [1, 2, 3], formatter: v => feedingModes[Math.round(v) - 1], fontSize: 21, color: axisGrey, fontFamily, margin: 12 },
    splitLine: { show: false }
  });

  option.yAxis.push({
    gridIndex: i, type: 'value', min: log(p.range[0]), max: log(p.range[1]),
    name: p.title, nameLocation: 'middle', nameGap: titleGap[col],
    nameTextStyle: { fontSize: 30, color: '#000', fontFamily },
    axisLine: { show: true, onZero: false, lineStyle: { color: axisGrey, width: 2 } },
    axisTick: { show: true, length: 8, customValues: tickLogs, lineStyle: { color: axisGrey, width: 2 } },
    axisLabel: { customValues: tickLogs, formatter: v => Math.pow(10, v).toFixed(2), fontSize: 20, color: axisGrey, fontFamily, margin: 15 },
    splitLine: { show: false }
  });

  option.series.push({
    type: 'custom', xAxisIndex: i, yAxisIndex: i, renderItem: renderBox, silent: true, z: 2,
    encode: { x: 0, y: [1, 2, 3, 4, 5] },
    data: p.boxes.map((b, g) => [g + 1, ...b.map(log)])
  });

  option.series.push({
    type: 'scatter', xAxisIndex: i, yAxisIndex: i, silent: true, z: 3,
    symbol: 'circle', symbolSize: 6.5,
    itemStyle: { color: 'transparent', borderColor: '#000', borderWidth: 1.9, opacity: 1 },
    data: p.groups.flatMap((pts, g) => pts.map(([dx, v]) => [g + 1 + dx, log(v)]))
  });

  option.series.push({
    type: 'scatter', xAxisIndex: i, yAxisIndex: i, silent: true, z: 4,
    symbol: 'circle', symbolSize: 22, itemStyle: { color: '#ff0000', opacity: 1 },
    data: p.means.map((m, g) => [g + 1, log(m)])
  });

  option.series.push({
    type: 'custom', xAxisIndex: i, yAxisIndex: i, renderItem: renderBracket, silent: true, z: 4,
    encode: { x: [0, 1], y: 2 },
    data: p.brackets.map(([a, b, y]) => [a, b, log(y)])
  });

  option.graphic.push({
    type: 'text', x: col ? 559 : 11, y: letterY[row],
    style: { text: p.letter, fontSize: 29, fontWeight: 'bold', fontFamily, fill: '#000', verticalAlign: 'middle' }
  });
});

document.addEventListener('DOMContentLoaded', function () {
  const chart = echarts.init(document.getElementById('chart'), null, { renderer: 'canvas' });
  chart.setOption(option);
});
</script>
</body>
</html>
